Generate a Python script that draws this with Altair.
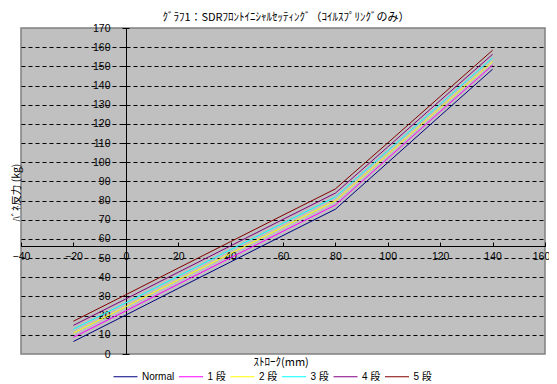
import altair as alt
import pandas as pd

stroke = [-20, 0, 20, 40, 60, 80, 100, 120, 140]
normal = [6.5, 20.3, 34.2, 48.0, 61.8, 75.5, 99.8, 124.2, 148.5]
dan1 = [8.7, 22.5, 36.4, 50.2, 64.0, 77.7, 102.0, 126.4, 150.6]
dan2 = [10.9, 24.7, 38.6, 52.4, 66.2, 79.9, 104.1, 128.4, 152.5]
dan3 = [12.9, 26.7, 40.6, 54.4, 68.2, 81.9, 106.0, 130.3, 154.5]
dan4 = [14.9, 28.7, 42.6, 56.4, 70.2, 83.9, 108.0, 132.2, 156.3]
dan5 = [17.1, 30.9, 44.8, 58.6, 72.4, 86.1, 110.1, 134.3, 158.4]

series_names = ["Normal", "1 段", "2 段", "3 段", "4 段", "5 段"]
series_values = [normal, dan1, dan2, dan3, dan4, dan5]
series_colors = ["#000080", "#FF00FF", "#FFFF00", "#00FFFF", "#800080", "#800000"]

x_ticks = list(range(-40, 161, 20))
y_ticks = list(range(0, 171, 10))

rows = []
for name, vals in zip(series_names, series_values):
    for i, (sx, v) in enumerate(zip(stroke, vals)):
        rows.append({"stroke": sx, "force": v, "series": name, "order": i})
df = pd.DataFrame(rows)

FONT = "Liberation Sans Narrow, Liberation Sans, Noto Sans CJK JP"
W, H = 524, 326
X0_PX = 105   # pixel position of x=0 inside the plot
XAX_PX = 108  # pixel height of x-axis line above the plot bottom

xscale = alt.Scale(domain=[-40, 160], nice=False, zero=False)
yscale = alt.Scale(domain=[0, 170], nice=False, zero=False)

lines = alt.Chart(df).mark_line(strokeWidth=1).encode(
    x=alt.X("stroke:Q", scale=xscale, axis=alt.Axis(
        orient="bottom", offset=-XAX_PX, values=x_ticks, ticks=False, tickSize=0,
        labelPadding=5, labelFlush=False, labelOverlap=False, labelBound=False,
        labelOffset={"condition": {"test": "datum.value == 160", "value": -4}, "value": 0},
        domainColor="black", domainWidth=1, grid=False,
        labelFont=FONT, labelFontSize=10.5, labelColor="black",
        title="ｽﾄﾛｰｸ(mm)", titleFont="Noto Sans CJK JP", titleFontSize=11,
        titleFontWeight="normal", titleColor="black",
        titleX=232, titleY=116, titleBaseline="middle", titleAnchor="start",
    )),
    y=alt.Y("force:Q", scale=yscale, axis=alt.Axis(
        orient="left", offset=-X0_PX, values=y_ticks, tickSize=4, tickColor="black",
        labelPadding=12, labelFont=FONT, labelFontSize=10.5, labelColor="black",
        domainColor="black", domainWidth=1,
        grid=True, gridColor="black", gridDash=[4, 3], gridWidth=1,
        gridOpacity={"condition": {"test": "datum.value == 0 || datum.value == 170", "value": 0}, "value": 1},
        title="ﾊﾞﾈ反力 (kg)", titleFont="Noto Sans CJK JP", titleFontSize=10.5,
        titleFontWeight="normal", titleColor="black",
        titleX=-110, titleY=164, titleBaseline="middle", titleAngle=270,
    )),
    color=alt.Color("series:N", scale=alt.Scale(domain=series_names, range=series_colors),
                    sort=series_names,
                    legend=alt.Legend(
                        orient="none", legendX=92, legendY=336, direction="horizontal",
                        title=None, symbolType="stroke", symbolSize=576, symbolStrokeWidth=1,
                        labelFont=FONT, labelFontSize=10, labelColor="black",
                        labelOffset=4, columnPadding=1.5, padding=0,
                    )),
    order="order:Q",
)

ticks_layer = alt.Chart(df).mark_point(opacity=0, size=1).encode(
    x=alt.X("stroke:Q", scale=xscale, axis=alt.Axis(
        orient="top", offset=-(H - XAX_PX), values=x_ticks, tickSize=4, tickColor="black",
        labels=False, domain=False, grid=False, title=None,
    )),
    y=alt.Y("force:Q", scale=yscale, axis=alt.Axis(
        orient="right", offset=-(W - X0_PX), values=y_ticks, tickSize=3, tickColor="black",
        labels=False, domain=False, grid=False, title=None,
    )),
)

chart = alt.layer(lines, ticks_layer).resolve_axis(
    x="independent", y="independent"
).properties(
    width=W, height=H,
    background="white",
    autosize=alt.AutoSizeParams(type="none"),
    padding={"left": 13, "top": 20, "right": 4, "bottom": 28},
    title=alt.TitleParams(
        "ｸﾞﾗﾌ1：SDRﾌﾛﾝﾄｲﾆｼｬﾙｾｯﾃｨﾝｸﾞ（ｺｲﾙｽﾌﾟﾘﾝｸﾞのみ）",
        font="Noto Sans CJK JP", fontSize=11, fontWeight="normal", color="black",
        anchor="middle", frame="group", offset=9, dx=3, dy=9,
    ),
).configure_view(
    fill="#C0C0C0", stroke="#808080", strokeWidth=1.5
)

chart.save("out.html", embed_options={"renderer": "svg", "actions": False})
